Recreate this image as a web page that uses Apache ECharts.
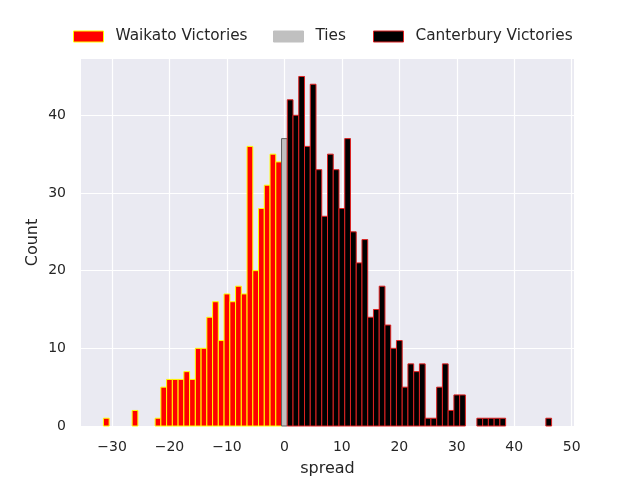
<!DOCTYPE html>
<html>
<head>
<meta charset="utf-8">
<script src="https://cdn.jsdelivr.net/npm/echarts@6/dist/echarts.min.js"></script>
<style>
html,body{margin:0;padding:0;background:#fff;}
#chart{width:640px;height:480px;}
</style>
</head>
<body>
<div id="chart"></div>
<script>
const waikatoSpread = [-31,-26,-22,-21,-20,-19,-18,-17,-16,-15,-14,-13,-12,-11,-10,-9,-8,-7,-6,-5,-4,-3,-2,-1];
const waikatoCount  = [1,2,1,5,6,6,6,7,6,10,10,14,16,11,17,16,18,17,36,20,28,31,35,34];
const tiesSpread = [0];
const tiesCount  = [37];
const canterburySpread = [1,2,3,4,5,6,7,8,9,10,11,12,13,14,15,16,17,18,19,20,21,22,23,24,25,26,27,28,29,30,31,34,35,36,37,38,46];
const canterburyCount  = [42,40,45,36,44,33,27,35,33,28,37,25,21,24,14,15,18,13,10,11,5,8,7,8,1,1,5,8,2,4,4,1,1,1,1,1,1];
const xTicks = [-30,-20,-10,0,10,20,30,40,50];
const yTicks = [0,10,20,30,40];

const FONT = 'DejaVu Sans';
const TXT = '#262626';

function pairs(xs, ys){ return xs.map((x,i)=>[x, ys[i]]); }

function renderBar(params, api){
  const x = api.value(0), y = api.value(1);
  const p0 = api.coord([x - 0.5, y]);
  const p1 = api.coord([x + 0.5, 0]);
  return {
    type: 'rect',
    shape: {x: p0[0], y: p0[1], width: p1[0]-p0[0], height: p1[1]-p0[1]},
    style: api.style()
  };
}

const styles = {
  'Waikato Victories': {color:'#ff0000', borderColor:'#ffff00'},
  'Ties': {color:'#c0c0c0', borderColor:'#606060'},
  'Canterbury Victories': {color:'#000000', borderColor:'#dd2222'}
};

function mkSeries(name, xs, ys){
  const s = styles[name];
  return {
    type:'custom', name: name, renderItem: renderBar,
    encode:{x:0,y:1},
    itemStyle:{color:s.color, borderColor:s.borderColor, borderWidth:1},
    data: pairs(xs, ys)
  };
}

function mkLegend(name, left, icon){
  const s = styles[name];
  return {
    left: left, top: 29, orient:'horizontal', padding:0,
    itemWidth: 30, itemHeight: 11,
    textStyle:{fontFamily:FONT, fontSize:15.3, color:TXT, padding:[0,0,0,7]},
    data:[{name:name, icon:'rect', itemStyle:{color:s.color, borderColor:icon?s.borderColor:s.color, borderWidth:1}}]
  };
}

const chart = echarts.init(document.getElementById('chart'), null, {renderer:'canvas'});
chart.setOption({
  animation:false,
  backgroundColor:'#ffffff',
  legend:[
    mkLegend('Waikato Victories', 73, true),
    mkLegend('Ties', 273, false),
    mkLegend('Canterbury Victories', 373, true)
  ],
  grid:{left:81, right:66, top:59, bottom:54, backgroundColor:'#eaeaf2', show:true, borderWidth:0,
        containLabel:false, outerBoundsMode:'none'},
  xAxis:{
    type:'value', min:-35.4, max:50.4, splitNumber:8,
    name:'spread', nameLocation:'middle', nameGap:35, nameMoveOverlap:false,
    nameTextStyle:{fontFamily:FONT, fontSize:16, color:TXT},
    axisLine:{show:false}, axisTick:{show:false},
    axisLabel:{fontFamily:FONT, fontSize:14, color:TXT, margin:14, showMinLabel:false, showMaxLabel:false,
      formatter:v => xTicks.includes(v) ? String(v).replace('-', '\u2212') : ''},
    splitLine:{show:true, showMinLine:false, showMaxLine:false, lineStyle:{color:'#ffffff', width:1.2}}
  },
  yAxis:{
    type:'value', min:0, max:47.25, interval:10,
    name:'Count', nameLocation:'middle', nameGap:40, nameRotate:90, nameMoveOverlap:false,
    nameTextStyle:{fontFamily:FONT, fontSize:16, color:TXT},
    axisLine:{show:false}, axisTick:{show:false},
    axisLabel:{fontFamily:FONT, fontSize:14, color:TXT, margin:15, showMaxLabel:false,
      formatter:v => yTicks.includes(v) ? String(v) : ''},
    splitLine:{show:true, showMaxLine:false, lineStyle:{color:'#ffffff', width:1.2}}
  },
  series:[
    mkSeries('Waikato Victories', waikatoSpread, waikatoCount),
    mkSeries('Ties', tiesSpread, tiesCount),
    mkSeries('Canterbury Victories', canterburySpread, canterburyCount)
  ]
});
</script>
</body>
</html>
